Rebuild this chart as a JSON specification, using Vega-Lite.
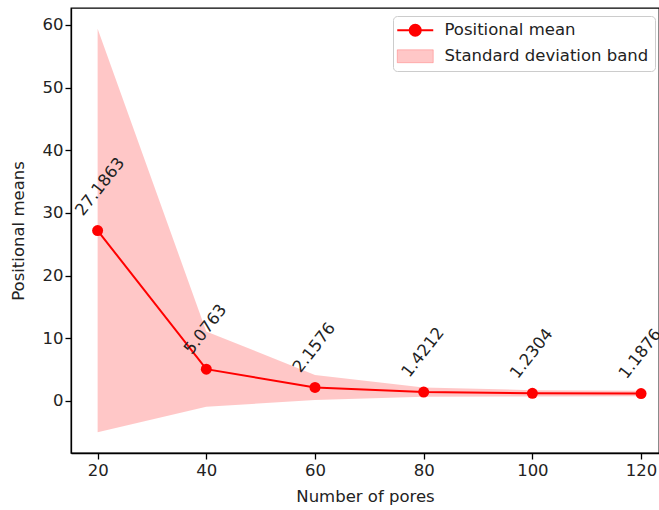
{
  "$schema": "https://vega.github.io/schema/vega-lite/v6.json",
  "width": 588,
  "height": 445,
  "autosize": {"type": "none"},
  "padding": {"left": 71, "top": 8, "right": 0, "bottom": 57},
  "background": "white",
  "config": {
    "view": {"stroke": "#000", "strokeWidth": 1.3},
    "font": "DejaVu Sans",
    "axis": {
      "grid": false,
      "domainColor": "#000",
      "domainWidth": 1.3,
      "tickColor": "#000",
      "tickWidth": 1.3,
      "tickSize": 6,
      "labelFont": "DejaVu Sans",
      "labelFontSize": 16.5,
      "labelColor": "#222",
      "titleFont": "DejaVu Sans",
      "titleFontSize": 16.5,
      "titleFontWeight": "normal",
      "titleColor": "#222",
      "labelFlush": false
    }
  },
  "datasets": {
    "band": [
      {"n": 20, "lower": -5.0, "upper": 59.4, "series": "Standard deviation band"},
      {"n": 40, "lower": -0.93, "upper": 11.08, "series": "Standard deviation band"},
      {"n": 60, "lower": 0.16, "upper": 4.16, "series": "Standard deviation band"},
      {"n": 80, "lower": 0.67, "upper": 2.17, "series": "Standard deviation band"},
      {"n": 100, "lower": 0.73, "upper": 1.73, "series": "Standard deviation band"},
      {"n": 120, "lower": 0.74, "upper": 1.64, "series": "Standard deviation band"}
    ],
    "means": [
      {"n": 20, "mean": 27.1863, "series": "Positional mean"},
      {"n": 40, "mean": 5.0763, "series": "Positional mean"},
      {"n": 60, "mean": 2.1576, "series": "Positional mean"},
      {"n": 80, "mean": 1.4212, "series": "Positional mean"},
      {"n": 100, "mean": 1.2304, "series": "Positional mean"},
      {"n": 120, "mean": 1.1876, "series": "Positional mean"}
    ]
  },
  "encoding": {
    "x": {
      "field": "n", "type": "quantitative",
      "scale": {"domain": [15.1, 123.3], "nice": false, "zero": false},
      "axis": {"values": [20, 40, 60, 80, 100, 120], "title": "Number of pores", "labelPadding": 3, "titlePadding": 10}
    }
  },
  "layer": [
    {
      "data": {"name": "band"},
      "mark": {"type": "area", "fillOpacity": 0.22, "strokeOpacity": 0.22, "strokeWidth": 1},
      "encoding": {
        "y": {
          "field": "lower", "type": "quantitative",
          "scale": {"domain": [-8.3, 62.7], "nice": false, "zero": false},
          "axis": {"values": [0, 10, 20, 30, 40, 50, 60], "title": "Positional means", "labelPadding": 2, "titlePadding": 16}
        },
        "y2": {"field": "upper"},
        "color": {
          "field": "series",
          "type": "nominal",
          "scale": {"domain": ["Positional mean", "Standard deviation band"], "range": ["#ff0000", "#ff0000"]},
          "legend": {
            "orient": "none",
            "legendX": 322,
            "legendY": 8,
            "title": null,
            "fillColor": "white",
            "strokeColor": "#cccccc",
            "cornerRadius": 4,
            "padding": 6,
            "labelFont": "DejaVu Sans",
            "labelFontSize": 16.5,
            "labelColor": "#222",
            "labelLimit": 0,
            "symbolSize": 144,
            "symbolOffset": 8,
            "labelOffset": 21,
            "rowPadding": 7,
            "encode": {
              "symbols": {
                "update": {
                  "shape": {"signal": "datum.value === 'Positional mean' ? 'M-3,0H3M-0.92,0A0.92,0.92 0 1,0 0.92,0A0.92,0.92 0 1,0 -0.92,0Z' : 'M-3,-1.08H3V1.08H-3Z'"},
                  "fillOpacity": {"signal": "datum.value === 'Positional mean' ? 1 : 0.22"},
                  "strokeOpacity": {"signal": "datum.value === 'Positional mean' ? 1 : 0.22"},
                  "strokeWidth": {"signal": "datum.value === 'Positional mean' ? 2 : 1"}
                }
              }
            }
          }
        }
      }
    },
    {
      "data": {"name": "means"},
      "mark": {"type": "line", "strokeWidth": 2, "point": {"filled": true, "size": 121, "opacity": 1}},
      "encoding": {
        "y": {"field": "mean", "type": "quantitative"},
        "color": {"field": "series", "type": "nominal"}
      }
    },
    {
      "data": {"name": "means"},
      "mark": {"type": "text", "align": "left", "baseline": "middle", "angle": 308, "dx": 2, "dy": -25, "fontSize": 16.5, "font": "DejaVu Sans", "color": "#222"},
      "encoding": {
        "y": {"field": "mean", "type": "quantitative"},
        "text": {"field": "mean", "type": "quantitative", "format": ".4f"}
      }
    }
  ]
}
